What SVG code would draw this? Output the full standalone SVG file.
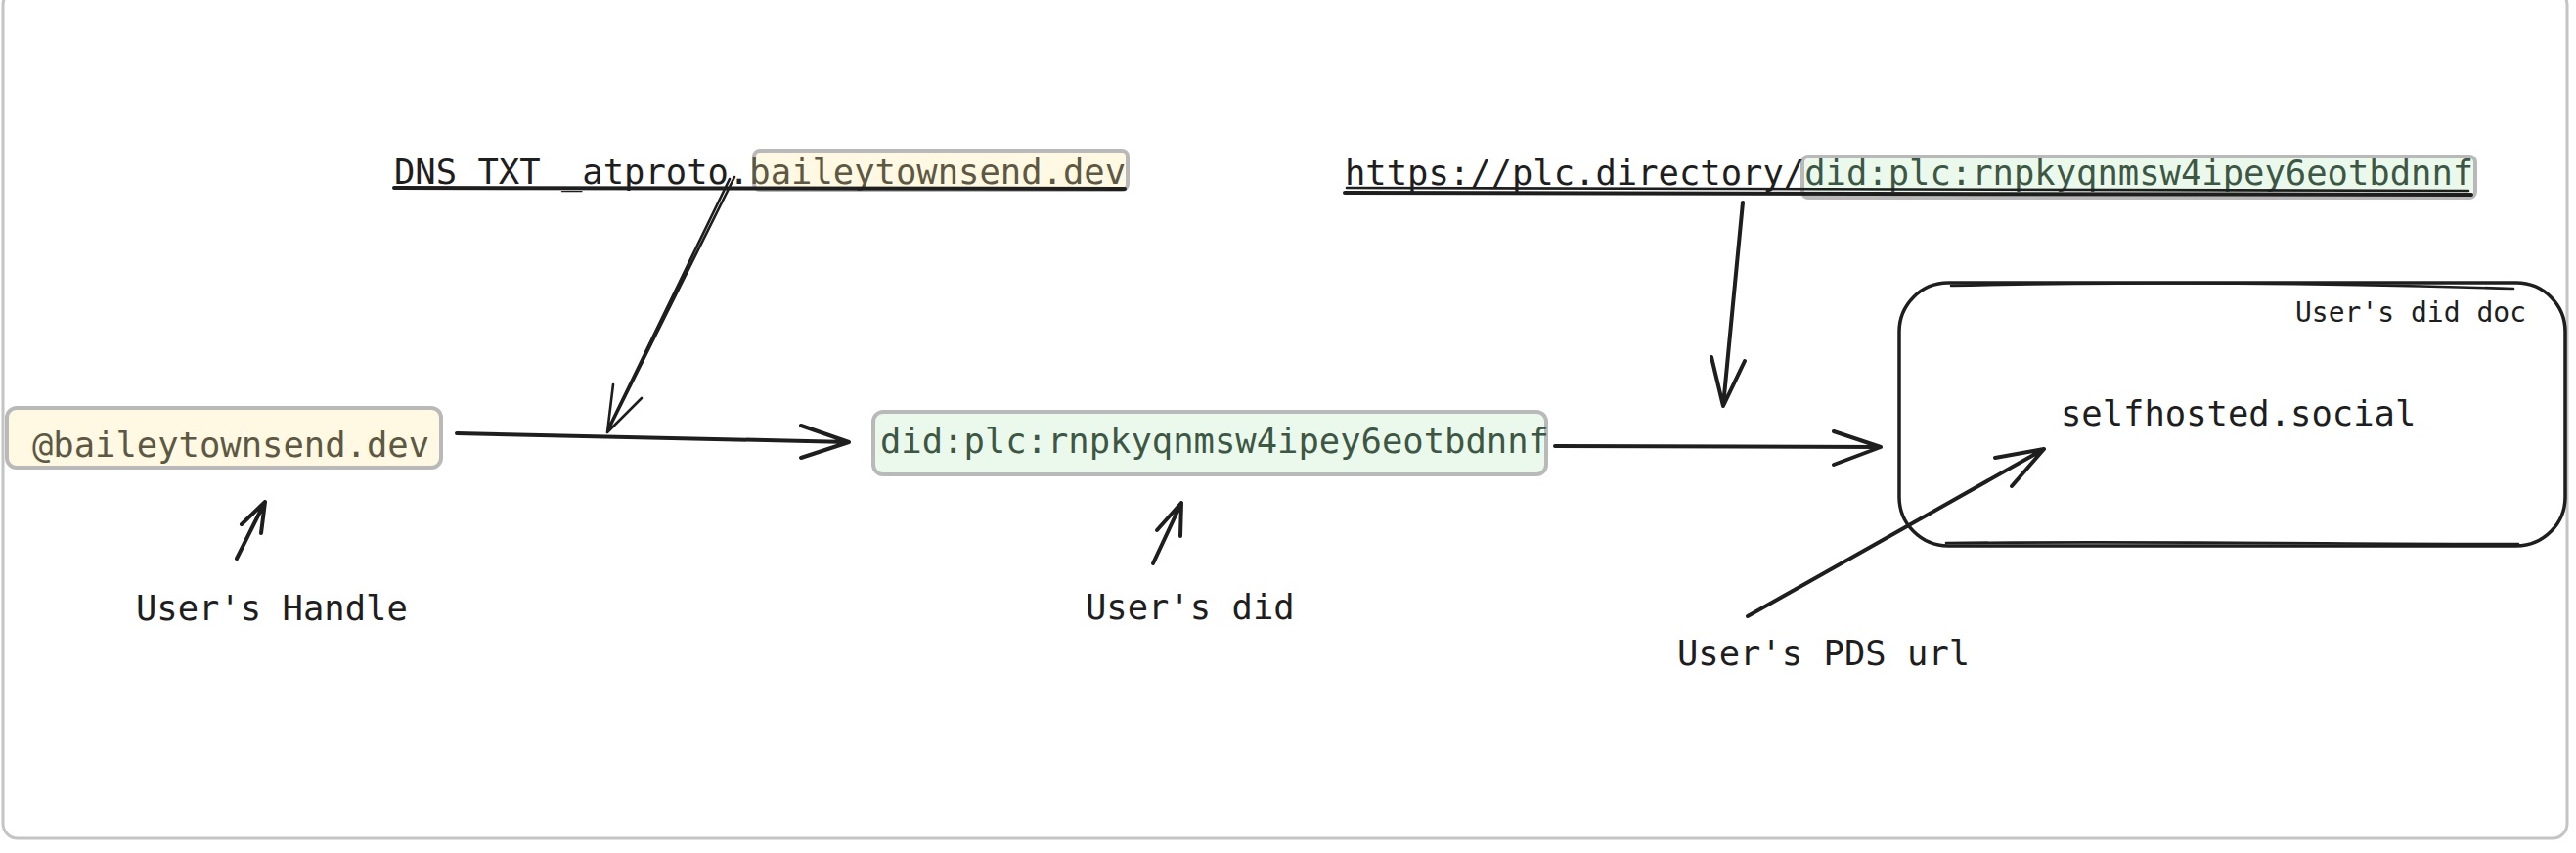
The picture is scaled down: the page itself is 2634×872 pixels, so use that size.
<svg xmlns="http://www.w3.org/2000/svg" width="2634" height="872" viewBox="0 0 2634 872">
<style>
.t{font-family:"DejaVu Sans Mono","Liberation Mono",monospace;font-size:35.5px;fill:#1e1e1e}
.s{font-size:28px}
.ol{fill:#5c5843}
.gr{fill:#3d5744}
.ln{fill:none;stroke:#1e1e1e;stroke-width:4;stroke-linecap:round;stroke-linejoin:round}
.thin{stroke-width:2.6}
.hy{fill:#fff8e2;stroke:#b9b9b9;stroke-width:4}
.hg{fill:#ebf9ed;stroke:#b9b9b9;stroke-width:4}
</style>
<rect x="0" y="0" width="2634" height="872" fill="#ffffff"/>
<rect id="frame" x="3" y="-10" width="2622" height="867" rx="15" fill="none" stroke="#c4c4c4" stroke-width="3"/>

<g id="dns-query">
<rect class="hy" x="771" y="154" width="382" height="40" rx="6"/>
<text class="t" x="403" y="188">DNS TXT _atproto.<tspan class="ol">baileytownsend.dev</tspan></text>
<path class="ln" d="M403,192 L1150,193"/>
</g>

<g id="plc-query">
<rect class="hg" x="1843" y="160" width="688" height="42" rx="6"/>
<text class="t" x="1375" y="189">https://plc.directory/<tspan class="gr">did:plc:rnpkyqnmsw4ipey6eotbdnnf</tspan></text>
<path class="ln" d="M1375,197 L2527,199"/>
<path class="ln thin" d="M1377,192 L2524,195"/>
</g>

<g id="handle">
<rect class="hy" x="7" y="417" width="444" height="61" rx="10"/>
<text class="t ol" x="33" y="467">@baileytownsend.dev</text>
</g>

<g id="did">
<rect class="hg" x="893" y="421" width="688" height="64" rx="10"/>
<text class="t gr" x="900" y="463">did:plc:rnpkyqnmsw4ipey6eotbdnnf</text>
</g>

<g id="did-doc">
<rect x="1942" y="289" width="681" height="269" rx="50" fill="none" stroke="#1e1e1e" stroke-width="3.5"/>
<path class="ln thin" d="M1995,292 C2200,287 2400,290 2570,295"/>
<path class="ln thin" d="M1990,555 C2200,553 2400,556 2575,556"/>
<text class="t s" x="2347" y="329">User's did doc</text>
<text class="t" x="2107" y="435">selfhosted.social</text>
</g>

<g id="label-handle"><text class="t" x="139" y="634">User's Handle</text></g>
<g id="label-did"><text class="t" x="1110" y="633">User's did</text></g>
<g id="label-pds"><text class="t" x="1715" y="680">User's PDS url</text></g>

<g id="connectors">
<path class="ln" d="M467,443 L868,452 M819,435 L868,452 L819,468"/>
<path class="ln thin" d="M751,181 L621,442 M746,183 L623,436 M627,393 L621,442 L656,407"/>
<path class="ln" d="M1590,456 L1923,457 M1875,441 L1923,457 L1875,475"/>
<path class="ln" d="M1782,207 L1762,415 M1750,365 L1762,415 L1784,369"/>
<path class="ln" d="M1787,630 L2090,459 M2040,468 L2090,459 L2057,497"/>
<path class="ln" d="M242,571 L271,513 M247,536 L271,513 L267,545"/>
<path class="ln" d="M1179,576 L1208,514 M1183,542 L1208,514 L1207,548"/>
</g>
</svg>
